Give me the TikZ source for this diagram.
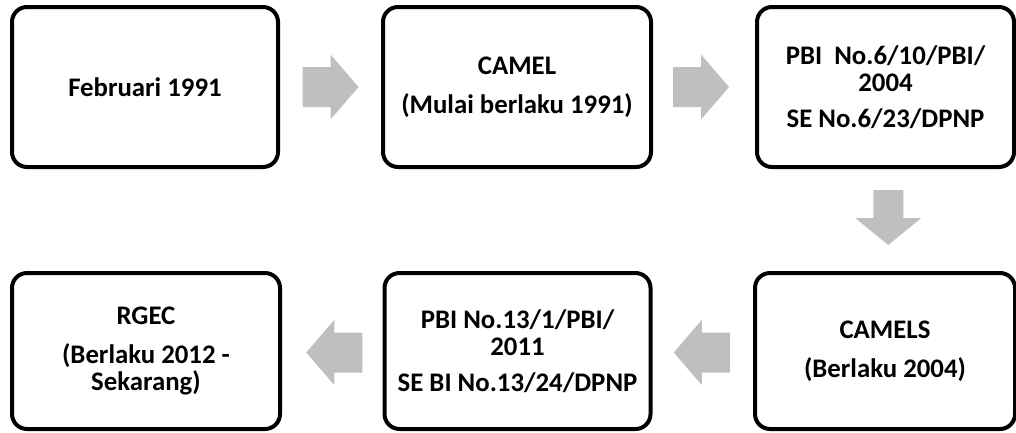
\documentclass[tikz,border=0pt]{standalone}
\usepackage{fontspec}
\setmainfont{Carlito}
\usetikzlibrary{calc}
\definecolor{arrowgray}{RGB}{191,191,191}
\tikzset{
  box/.style={draw=black, line width=4pt, rounded corners=15pt, fill=white,
    align=center, inner sep=0pt,
    font=\fontsize{26.8}{27.5}\selectfont\bfseries},
  harrow/.pic={\fill[arrowgray] (-28,-20) -- (0,-20) -- (0,-32.5) -- (28,0) -- (0,32.5) -- (0,20) -- (-28,20) -- cycle;},
  varrow/.pic={\fill[arrowgray] (-27.5,-15) -- (0.5,-15) -- (0.5,-33) -- (27.5,0) -- (0.5,33) -- (0.5,15) -- (-27.5,15) -- cycle;}
}
\begin{document}
\begin{tikzpicture}[x=1pt,y=-1pt]
\useasboundingbox (0,0) rectangle (1016,432);
\node[box, minimum width=266pt, minimum height=160pt] (b1) at (145,87) {Februari 1991};
\node[box, minimum width=268pt, minimum height=160pt] (b2) at (517,87) {CAMEL\\[11pt](Mulai berlaku 1991)};
\node[box, minimum width=257pt, minimum height=160pt] (b3) at (885.5,87) {PBI\ \ No.6/10/PBI/\\2004\\[8pt]SE No.6/23/DPNP};
\node[box, minimum width=260pt, minimum height=156pt] (b4) at (885,351) {CAMELS\\[11pt](Berlaku 2004)};
\node[box, minimum width=266pt, minimum height=156pt] (b5) at (517.5,351) {PBI No.13/1/PBI/\\2011\\[8pt]SE BI No.13/24/DPNP};
\node[box, minimum width=268pt, minimum height=156pt] (b6) at (146,351) {RGEC\\[11pt](Berlaku 2012 -\\Sekarang)};
\coordinate (m12) at ($(b1.east)!0.5!(b2.west)$);
\coordinate (m23) at ($(b2.east)!0.5!(b3.west)+(-3,0)$);
\coordinate (m34) at ($(b3.south)!0.5!(b4.north)+(3,-2.5)$);
\coordinate (m45) at ($(b4.west)!0.5!(b5.east)+(-1,1.5)$);
\coordinate (m56) at ($(b5.west)!0.5!(b6.east)+(2,1.5)$);
\pic at (m12) {harrow};
\pic at (m23) {harrow};
\pic[rotate=-90] at (m34) {varrow};
\pic[rotate=180] at (m45) {harrow};
\pic[rotate=180] at (m56) {harrow};
\end{tikzpicture}
\end{document}
